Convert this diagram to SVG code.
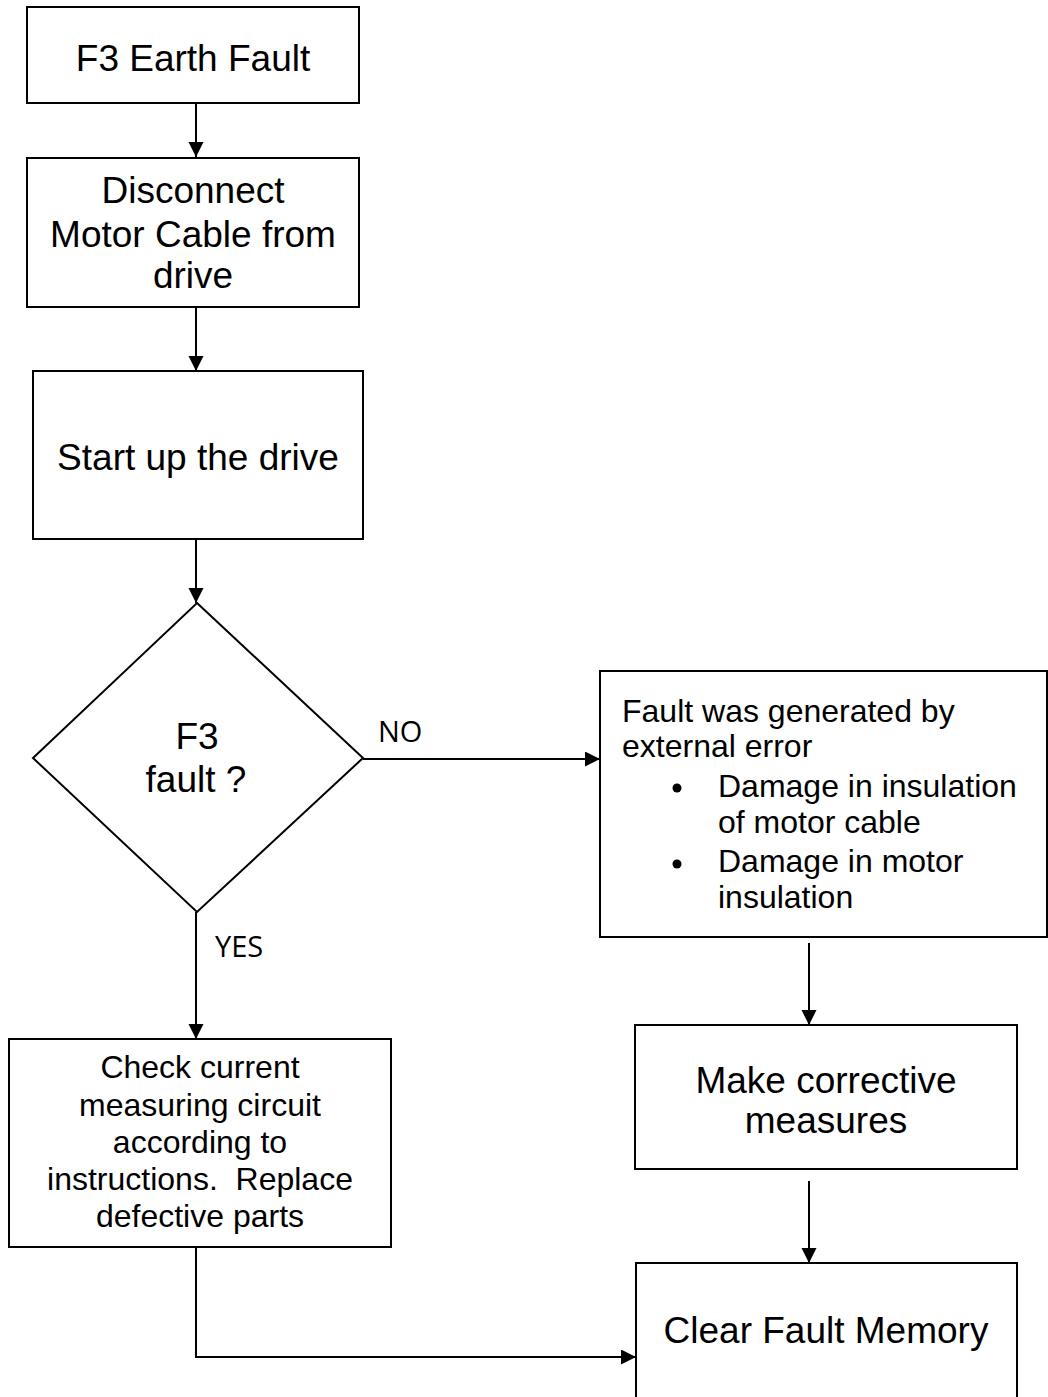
<svg xmlns="http://www.w3.org/2000/svg" width="1048" height="1397" viewBox="0 0 1048 1397">
<style>
.box{fill:#fff;stroke:#000;stroke-width:2}
.t{font-family:"Liberation Sans",Arial,sans-serif;font-size:37px;fill:#000;text-anchor:middle}
.s{font-family:"Liberation Sans",Arial,sans-serif;font-size:32px;fill:#000}
.sc{font-family:"Liberation Sans",Arial,sans-serif;font-size:32px;fill:#000;text-anchor:middle}
.lbl{font-family:"Open Sans",sans-serif;font-size:29px;fill:#000}
.c{fill:none;stroke:#000;stroke-width:2}
</style>
<defs>
<marker id="arr" markerUnits="userSpaceOnUse" markerWidth="16" markerHeight="16" refX="15" refY="7.5" orient="auto">
<path d="M0,0 L15,7.5 L0,15 z" fill="#000"/>
</marker>
</defs>
<rect width="1048" height="1397" fill="#fff"/>
<g id="connectors">
<line class="c" x1="196" y1="103" x2="196" y2="157" marker-end="url(#arr)"/>
<line class="c" x1="196" y1="307" x2="196" y2="371" marker-end="url(#arr)"/>
<line class="c" x1="196" y1="539" x2="196" y2="603" marker-end="url(#arr)"/>
<line class="c" x1="363" y1="759" x2="600" y2="759" marker-end="url(#arr)"/>
<line class="c" x1="196" y1="912" x2="196" y2="1039" marker-end="url(#arr)"/>
<line class="c" x1="809" y1="943" x2="809" y2="1025" marker-end="url(#arr)"/>
<line class="c" x1="809" y1="1181" x2="809" y2="1263" marker-end="url(#arr)"/>
<polyline class="c" points="196,1247 196,1357 636,1357" marker-end="url(#arr)"/>
<text class="lbl" x="378" y="742">NO</text>
<text class="lbl" x="215" y="957">YES</text>
</g>
<g id="n1">
<rect class="box" x="27" y="7" width="332" height="96"/>
<text class="t" x="193" y="71">F3 Earth Fault</text>
</g>
<g id="n2">
<rect class="box" x="27" y="158" width="332" height="149"/>
<text class="t" x="193" y="203">Disconnect</text>
<text class="t" x="193" y="247">Motor Cable from</text>
<text class="t" x="193" y="288">drive</text>
</g>
<g id="n3">
<rect class="box" x="33" y="371" width="330" height="168"/>
<text class="t" x="198" y="470">Start up the drive</text>
</g>
<g id="n4">
<polygon class="box" points="197,603 363,758 197,912 33,758"/>
<text class="t" x="197" y="749">F3</text>
<text class="t" x="196" y="792">fault ?</text>
</g>
<g id="n5">
<rect class="box" x="600" y="671" width="447" height="266"/>
<text class="s" x="622" y="722">Fault was generated by</text>
<text class="s" x="622" y="757">external error</text>
<circle cx="677" cy="788" r="4.5" fill="#000"/>
<text class="s" x="718" y="797">Damage in insulation</text>
<text class="s" x="718" y="833">of motor cable</text>
<circle cx="677" cy="864" r="4.5" fill="#000"/>
<text class="s" x="718" y="872">Damage in motor</text>
<text class="s" x="718" y="908">insulation</text>
</g>
<g id="n6">
<rect class="box" x="635" y="1025" width="382" height="144"/>
<text class="t" x="826" y="1093">Make corrective</text>
<text class="t" x="826" y="1133">measures</text>
</g>
<g id="n7">
<rect class="box" x="9" y="1039" width="382" height="208"/>
<text class="sc" x="200" y="1078">Check current</text>
<text class="sc" x="200" y="1116">measuring circuit</text>
<text class="sc" x="200" y="1153">according to</text>
<text class="sc" x="200" y="1190" xml:space="preserve">instructions.  Replace</text>
<text class="sc" x="200" y="1227">defective parts</text>
</g>
<g id="n8">
<rect class="box" x="636" y="1263" width="381" height="160"/>
<text class="t" x="826" y="1343">Clear Fault Memory</text>
</g>
</svg>
